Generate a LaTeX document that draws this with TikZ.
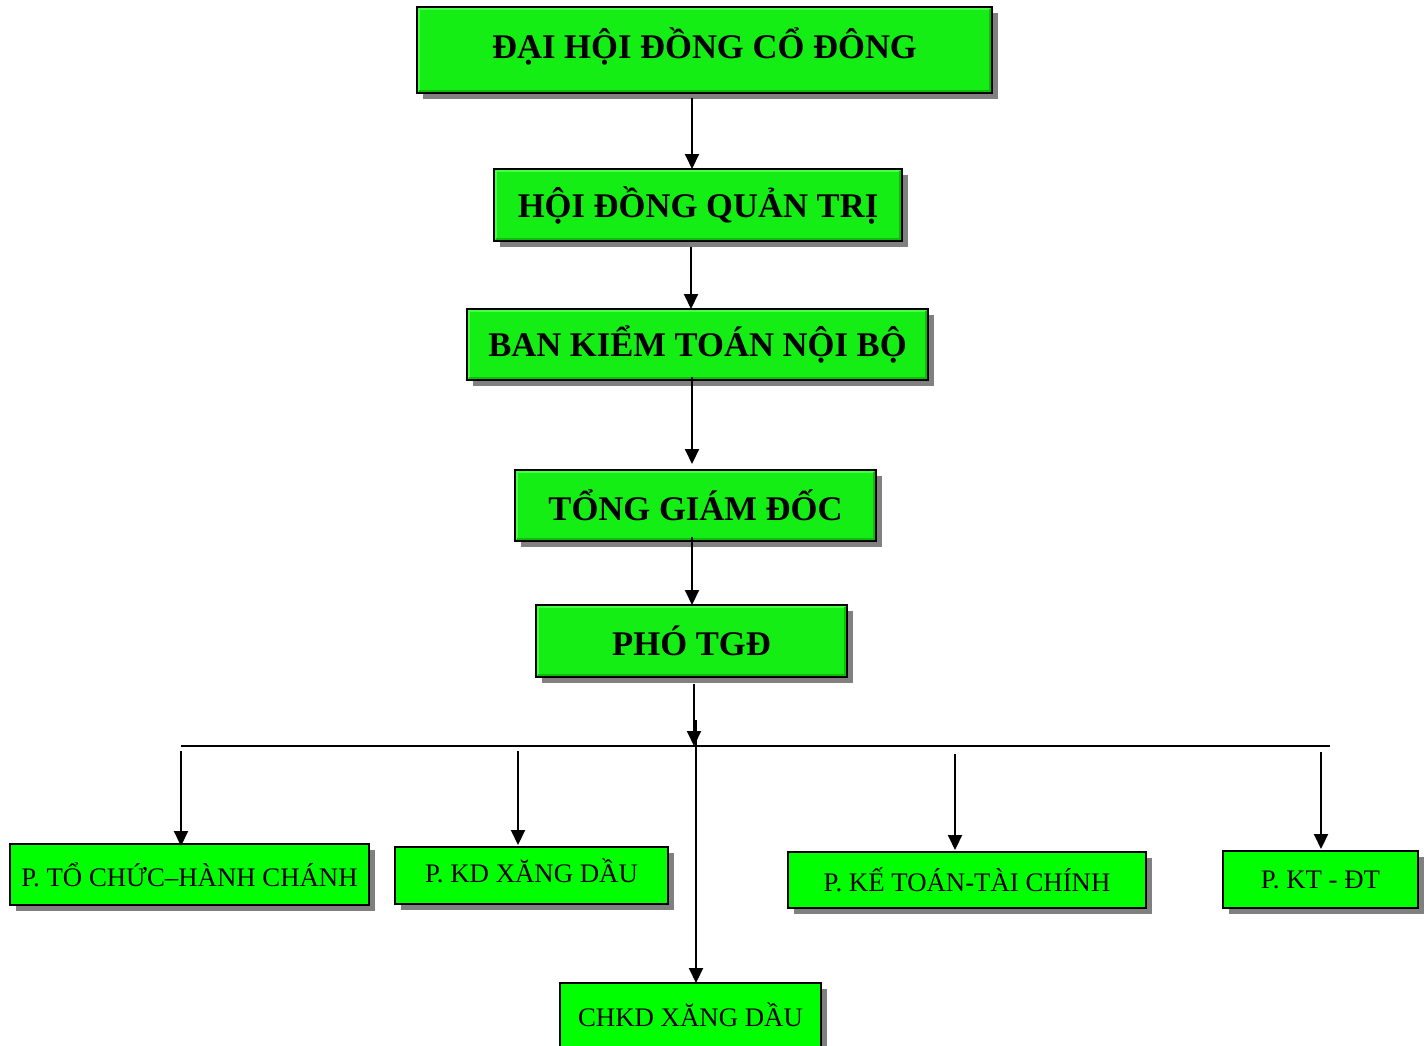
\documentclass[tikz,border=0pt]{standalone}
\usepackage{fontspec}
\setmainfont{Liberation Serif}
\usetikzlibrary{arrows.meta,shadows}
\definecolor{topgreen}{RGB}{20,238,20}
\definecolor{lightedge}{RGB}{70,255,70}
\definecolor{darkedge}{RGB}{10,190,10}
\definecolor{botgreen}{RGB}{0,255,0}
\definecolor{shadowgray}{RGB}{128,128,128}
\begin{document}
\begin{tikzpicture}[x=0.5pt,y=-0.5pt,
  box/.style={draw=black, line width=1pt, inner sep=0pt,
    drop shadow={shadow xshift=2.75pt, shadow yshift=-2.75pt, fill=shadowgray, opacity=1}},
  topbox/.style={box, fill=topgreen, font=\fontsize{17.3}{19}\selectfont\bfseries,
    path picture={
      \draw[lightedge, line width=1.2pt] ([shift={(1.1pt,1.1pt)}]path picture bounding box.south west) |- ([shift={(-1.1pt,-1.1pt)}]path picture bounding box.north east);
      \draw[darkedge, line width=1.2pt] ([shift={(1.1pt,1.1pt)}]path picture bounding box.south west) -| ([shift={(-1.1pt,-1.1pt)}]path picture bounding box.north east);
    }},
  botbox/.style={box, fill=botgreen, font=\fontsize{13.4}{15}\selectfont},
  arr/.style={line width=1pt, -{Triangle[length=7.5pt,width=7pt]}},
  busline/.style={line width=0.8pt}]
\useasboundingbox (0,0) rectangle (1428,1045);
\clip (0,0) rectangle (1428,1045);
\fill[white] (0,0) rectangle (1428,1045);
% top boxes
\node[topbox, minimum width=287.5pt, minimum height=43pt, text depth=6.5pt] (n1) at (704.5,50) {ĐẠI HỘI ĐỒNG CỔ ĐÔNG};
\node[topbox, minimum width=204pt, minimum height=36pt] (n2) at (698,205) {HỘI ĐỒNG QUẢN TRỊ};
\node[topbox, minimum width=230.5pt, minimum height=35.5pt] (n3) at (697.5,344.5) {BAN KIỂM TOÁN NỘI BỘ};
\node[topbox, minimum width=180.5pt, minimum height=35.5pt] (n4) at (695.5,505.5) {TỔNG GIÁM ĐỐC};
\node[topbox, minimum width=155.5pt, minimum height=36pt] (n5) at (691.5,641) {PHÓ TGĐ};
% bottom boxes
\node[botbox, minimum width=179.5pt, minimum height=30.5pt] (n6) at (189.5,874.5) {P. TỔ CHỨC–HÀNH CHÁNH};
\node[botbox, minimum width=136.5pt, minimum height=28.5pt, text depth=5pt] (n7) at (531.5,875.5) {P. KD XĂNG DẦU};
\node[botbox, minimum width=179pt, minimum height=28pt] (n8) at (967,880) {P. KẾ TOÁN-TÀI CHÍNH};
\node[botbox, minimum width=97.5pt, minimum height=28.5pt] (n9) at (1320.5,879.5) {P. KT - ĐT};
\node[botbox, minimum width=130.5pt, minimum height=34pt, text depth=2pt] (n10) at (690.5,1017) {CHKD XĂNG DẦU};
% coordinates
\coordinate (c1) at (692,0);
\coordinate (c2) at (691,0);
\coordinate (c5) at (694,0);
\coordinate (busL) at (181,746);
\coordinate (busR) at (1330,746);
\coordinate (b6) at (181,751);
\coordinate (b7) at (518,751);
\coordinate (b8) at (955,754);
\coordinate (b9) at (1321,752);
\coordinate (t) at (696,720);
% connectors
\draw[arr] ([yshift=-2pt]n1.south -| c1) -- ([yshift=-0.5pt]n2.north -| c1);
\draw[arr] ([yshift=-2.5pt]n2.south -| c2) -- ([yshift=-0.5pt]n3.north -| c2);
\draw[arr] ([yshift=2pt]n3.south -| c1) -- ([yshift=2.5pt]n4.north -| c1);
\draw[arr] ([yshift=2.5pt]n4.south -| c1) -- ([yshift=-0.5pt]n5.north -| c1);
\draw[busline] (busL) -- (busR);
\draw[arr] ([yshift=-3pt]n5.south -| c5) -- (c5 |- busL);
\draw[arr] (t) -- ([yshift=-0.5pt]n10.north -| t);
\draw[arr] (b6) -- ([yshift=-1.5pt]n6.north -| b6);
\draw[arr] (b7) -- ([yshift=0.5pt]n7.north -| b7);
\draw[arr] (b8) -- ([yshift=0.5pt]n8.north -| b8);
\draw[arr] (b9) -- ([yshift=0.5pt]n9.north -| b9);
\end{tikzpicture}
\end{document}
